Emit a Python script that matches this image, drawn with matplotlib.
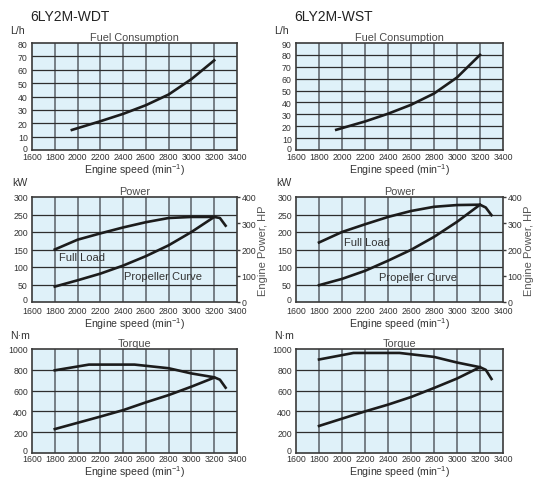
import matplotlib
matplotlib.use("Agg")
import matplotlib.pyplot as plt
from matplotlib.transforms import ScaledTranslation

fam = ["Liberation Sans", "DejaVu Sans"]
plt.rcParams['font.family'] = fam
plt.rcParams['mathtext.fontset'] = 'custom'
plt.rcParams['mathtext.rm'] = 'Liberation Sans'
plt.rcParams['mathtext.default'] = 'regular'

# ---------------- data ----------------
models = ["6LY2M-WDT", "6LY2M-WST"]

fuel_rpm = [1950, 2200, 2400, 2600, 2800, 3000, 3200]
fuel_wdt = [15, 21.5, 27, 33.5, 41.5, 53, 67]
fuel_wst = [17, 24, 30.5, 38, 47.5, 61, 80]

full_rpm = [1800, 2000, 2200, 2400, 2600, 2800, 3000, 3200, 3250, 3300]
full_kw_wdt = [150, 178, 196, 213, 228, 240, 243, 243, 240, 218]
full_kw_wst = [170, 200, 222, 243, 260, 272, 277, 278, 270, 248]

prop_rpm = [1800, 2000, 2200, 2400, 2600, 2800, 3000, 3200]
prop_kw_wdt = [44, 62, 81, 104, 131, 162, 200, 243]
prop_kw_wst = [48, 66, 89, 118, 149, 186, 229, 278]

tq_full_rpm = [1800, 2100, 2500, 2800, 3000, 3200, 3250, 3300]
tq_full_wdt = [795, 850, 850, 815, 765, 728, 705, 628]
tq_full_wst = [899, 962, 962, 924, 870, 825, 800, 712]

tq_prop_wdt = [230, 290, 350, 412, 487, 557, 638, 725]
tq_prop_wst = [260, 330, 400, 465, 538, 625, 716, 825]

x_ticks = [1600, 1800, 2000, 2200, 2400, 2600, 2800, 3000, 3200, 3400]
fuel_yticks = [[0, 10, 20, 30, 40, 50, 60, 70, 80],
               [0, 10, 20, 30, 40, 50, 60, 70, 80, 90]]
power_yticks = [0, 50, 100, 150, 200, 250, 300]
hp_ticks = [0, 100, 200, 300, 400]
torque_yticks = [0, 200, 400, 600, 800, 1000]

label_pos = {  # annotation positions (rpm, kW)
    "wdt": [("Full Load", 1840, 128), ("Propeller Curve", 2410, 74)],
    "wst": [("Full Load", 2020, 171), ("Propeller Curve", 2320, 71)],
}

W, H = 534, 481
fig = plt.figure(figsize=(W / 100, H / 100), dpi=100)

BG = '#dff1f9'
VGRID = '#6e767c'
HGRID = '#2e2e2e'
CURVE = '#1c1c1c'
TXT = '#333333'
TICKFS = 6.3
XL = "Engine speed (min$^{-1}$)"
ZERO_SHIFT = ScaledTranslation(0, 3 / 100, fig.dpi_scale_trans)


def rect(x0, y0, x1, y1):
    return [x0 / W, 1 - y1 / H, (x1 - x0) / W, (y1 - y0) / H]


def lift_zero(ax):
    # nudge the "0" y tick label up so it does not collide with the x labels
    ax.figure.canvas.draw_idle()
    tick = ax.yaxis.get_major_ticks()[0]
    for lab in (tick.label1, tick.label2):
        lab.set_transform(lab.get_transform() + ZERO_SHIFT)


def style(ax, yticks, x0, x1, xl_y, xpad):
    ax.set_facecolor(BG)
    ax.set_xlim(1600, 3400)
    ax.set_ylim(yticks[0], yticks[-1])
    ax.set_xticks(x_ticks)
    ax.set_yticks(yticks)
    for xv in x_ticks[1:-1]:
        ax.axvline(xv, color=VGRID, lw=1.3, zorder=1)
    for yv in yticks[1:-1]:
        ax.axhline(yv, color=HGRID, lw=0.9, zorder=1)
    for s in ax.spines.values():
        s.set_color('#3a3a3a')
        s.set_linewidth(1.2)
    ax.tick_params(axis='x', length=0, colors=TXT, pad=xpad, labelsize=TICKFS)
    ax.tick_params(axis='y', length=0, colors=TXT, pad=3.0, labelsize=TICKFS)
    lift_zero(ax)
    fig.text((x0 + x1) / 2 / W, 1 - xl_y / H, XL, fontsize=7.6, color=TXT,
             ha='center', va='center')


cols = [(32, 237), (296, 503)]
fuel_y = (44, 151)
pow_y = (198, 303)
tq_y = (350, 454)
xlab_y = [170, 324, 472]
xpads = [1.5, 3.0, 1.0]

data = [
    (fuel_wdt, full_kw_wdt, prop_kw_wdt, tq_full_wdt, tq_prop_wdt, "wdt"),
    (fuel_wst, full_kw_wst, prop_kw_wst, tq_full_wst, tq_prop_wst, "wst"),
]

for i, (x0, x1) in enumerate(cols):
    fuel, fk, pk, tf, tp, key = data[i]
    fig.text((x0 - 2) / W, 1 - 17 / H, models[i], fontsize=10, color='#222222',
             ha='left', va='center')

    # Fuel
    ax = fig.add_axes(rect(x0, fuel_y[0], x1, fuel_y[1]))
    style(ax, fuel_yticks[i], x0, x1, xlab_y[0], xpads[0])
    ax.plot(fuel_rpm, fuel, color=CURVE, lw=1.9, zorder=3)
    ax.set_title("Fuel Consumption", fontsize=7.8, color='#4a4a4a', pad=2.5)
    fig.text((x0 - 22) / W, 1 - 31 / H, "L/h", fontsize=7.6, color=TXT,
             ha='left', va='center')

    # Power
    ax = fig.add_axes(rect(x0, pow_y[0], x1, pow_y[1]))
    style(ax, power_yticks, x0, x1, xlab_y[1], xpads[1])
    ax.plot(full_rpm, fk, color=CURVE, lw=1.9, zorder=3)
    ax.plot(prop_rpm, pk, color=CURVE, lw=1.9, zorder=3)
    ax.set_title("Power", fontsize=7.8, color='#4a4a4a', pad=2.5)
    for t, xv, yv in label_pos[key]:
        ax.text(xv, yv, t, fontsize=8, color=TXT, ha='left', va='center', zorder=4)
    fig.text((x0 - 20) / W, 1 - 183 / H, "kW", fontsize=7.6, color=TXT,
             ha='left', va='center')
    ax2 = ax.twinx()
    ax2.set_ylim(hp_ticks[0], hp_ticks[-1])
    ax2.set_yticks(hp_ticks)
    ax2.tick_params(axis='y', length=2.5, width=1, direction='out',
                    colors='#3a3a3a', labelcolor=TXT, pad=0.8, labelsize=TICKFS)
    for s in ax2.spines.values():
        s.set_visible(False)
    ax2.set_ylabel("Engine Power, HP", fontsize=8, color='#555555', labelpad=1)

    # Torque
    ax = fig.add_axes(rect(x0, tq_y[0], x1, tq_y[1]))
    style(ax, torque_yticks, x0, x1, xlab_y[2], xpads[2])
    ax.plot(tq_full_rpm, tf, color=CURVE, lw=1.9, zorder=3)
    ax.plot(prop_rpm, tp, color=CURVE, lw=1.9, zorder=3)
    ax.set_title("Torque", fontsize=7.8, color='#4a4a4a', pad=2.5)
    fig.text((x0 - 22) / W, 1 - 336 / H, "N·m", fontsize=7.6, color=TXT,
             ha='left', va='center')

fig.savefig("out.png", dpi=100, facecolor='white')
